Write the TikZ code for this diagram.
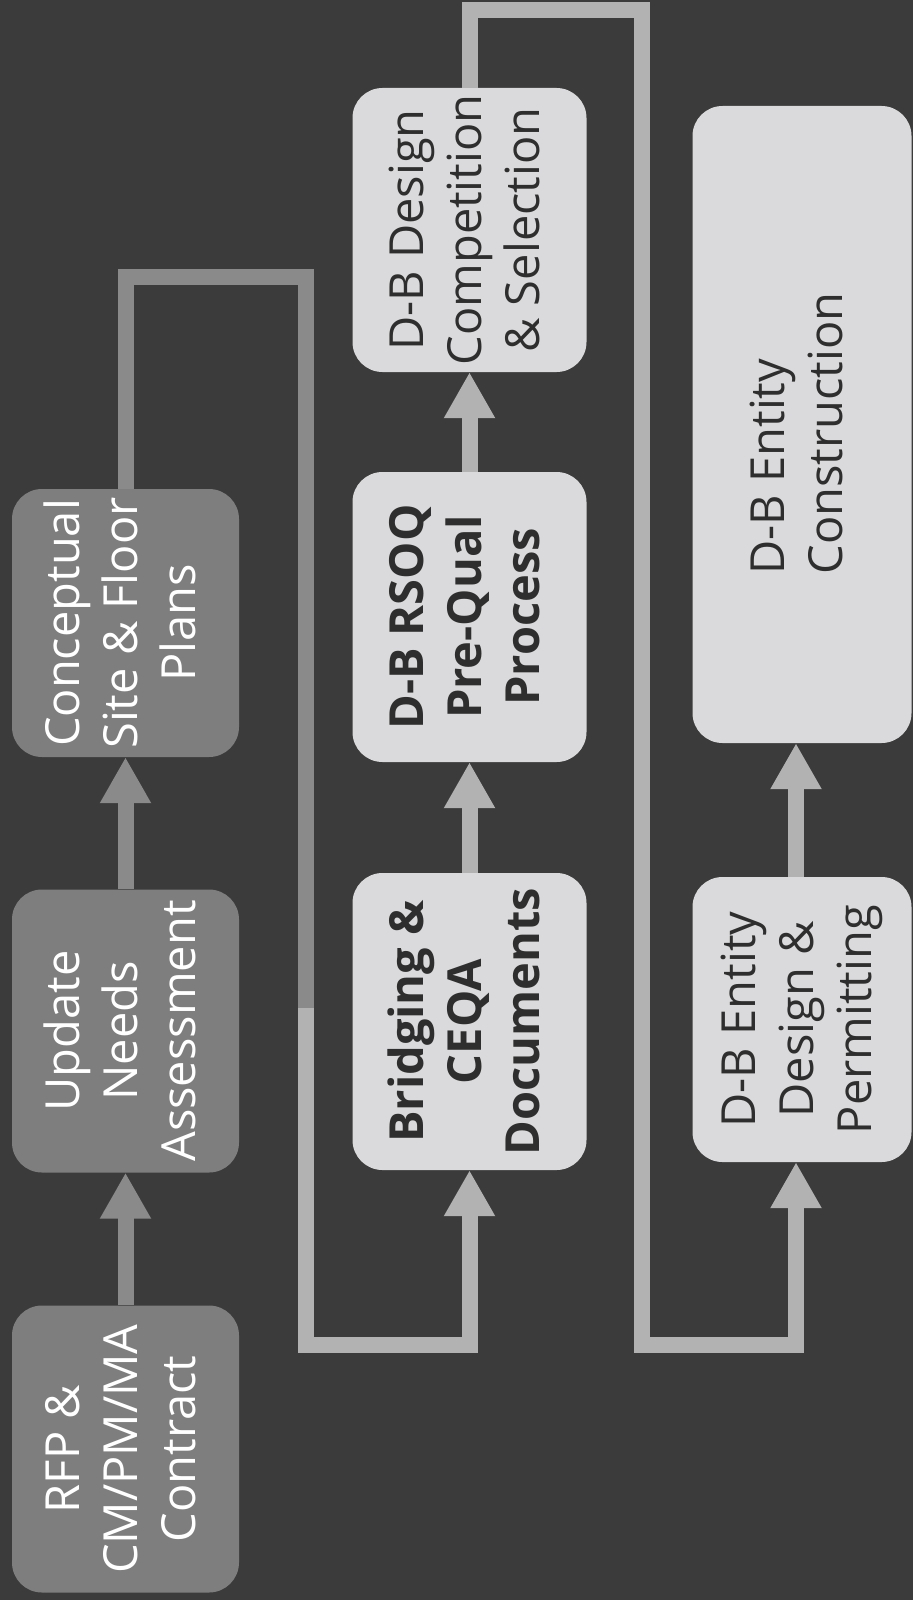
\documentclass[tikz,border=0pt]{standalone}
\usepackage{fontspec}
\setmainfont{Open Sans}
\usetikzlibrary{arrows.meta}
\definecolor{bgc}{HTML}{3B3B3B}
\definecolor{darkfill}{HTML}{7E7E7E}
\definecolor{lightfill}{HTML}{DADADC}
\definecolor{txtdark}{HTML}{2E2E2E}
\definecolor{linelight}{HTML}{B2B2B2}
\definecolor{linedark}{HTML}{8A8A8A}
\newcommand{\boxtext}[1]{\rotatebox{90}{\fontsize{47pt}{58pt}\selectfont\begin{tabular}{@{}c@{}}#1\end{tabular}}}
\newcommand{\boxtextl}[2]{\rotatebox{90}{\fontsize{47pt}{58pt}\selectfont\begin{tabular}{@{}l@{}}#1\end{tabular}\hspace{#2}}}
\begin{document}
\begin{tikzpicture}[x=1pt,y=-1pt,
  box/.style={rounded corners=30pt, inner sep=0pt, align=center},
  darkbox/.style={box, fill=darkfill, text=white},
  lightbox/.style={box, fill=lightfill, text=txtdark},
  conn/.style={line width=16pt, draw=linelight},
  tip/.style={-{Triangle[width=48pt,length=46pt]}}
]
\fill[bgc] (0,0) rectangle (913,1600);
\useasboundingbox (0,0) rectangle (913,1600);

% column 1
\node[darkbox, minimum width=227pt, minimum height=287pt] (rfp) at (125.5,1449) {\boxtext{RFP \&\\CM/PM/MA\\Contract}};
\node[darkbox, minimum width=227pt, minimum height=283pt] (upd) at (125.5,1031) {\boxtext{Update\\Needs\\Assessment}};
\node[darkbox, minimum width=227pt, minimum height=268pt] (con) at (125.5,623) {\boxtext{Conceptual\\Site \& Floor\\Plans}};

% column 2
\node[lightbox, minimum width=234pt, minimum height=297pt] (bri) at (469.5,1021.5) {\boxtext{\bfseries Bridging \&\\\bfseries CEQA\\\bfseries Documents}};
\node[lightbox, minimum width=234pt, minimum height=290pt] (rsoq) at (469.5,617) {\boxtext{\bfseries D-B RSOQ\\\bfseries Pre-Qual\\\bfseries Process}};
\node[lightbox, minimum width=234pt, minimum height=284pt] (dbd) at (469.5,230) {\boxtext{D-B Design\\Competition\\\& Selection}};

% column 3
\node[lightbox, minimum width=219pt, minimum height=285pt] (ent) at (802,1019.5) {\boxtext{D-B Entity\\Design \&\\Permitting}};
\node[lightbox, minimum width=219pt, minimum height=637pt] (cons) at (802,424.5) {\boxtextl{D-B Entity\\Construction}{18pt}};

% column arrows
\draw[conn, draw=linedark, tip] (rfp.north) -- (upd.south);
\draw[conn, draw=linedark, tip] (upd.north) -- (con.south);
\draw[conn, tip] (bri.north) -- (rsoq.south);
\draw[conn, tip] (rsoq.north) -- (dbd.south);
\draw[conn, tip] ([xshift=-6pt]ent.north) -- ([xshift=-6pt]cons.south);

% connector 1
\coordinate (k1) at (306,277);
\coordinate (km) at (306,1008);
\coordinate (k2) at (306,1345);
\draw[conn, draw=linedark] (con.north) |- (k1) -- (km);
\draw[conn, tip] (km) -- (k2) -| (bri.south);

% connector 2
\coordinate (k3) at (642,10);
\coordinate (k4) at (642,1345);
\draw[conn, tip] (dbd.north) |- (k3) -- (k4) -| ([xshift=-6pt]ent.south);
\end{tikzpicture}
\end{document}
